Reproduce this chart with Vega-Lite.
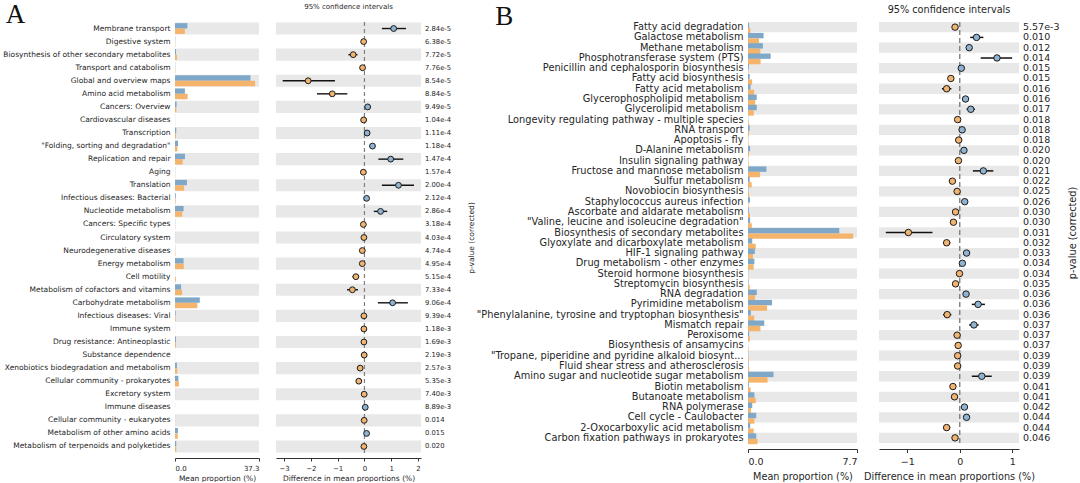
{
"$schema": "https://vega.github.io/schema/vega-lite/v6.json",
"padding": {"left": 2, "top": 1, "right": 2, "bottom": 0},
"background": "white",
"config": {"view": {"stroke": null}, "font": "DejaVu Sans", "axis": {"grid": false, "labelOverlap": false, "labelColor": "#262626", "titleColor": "#262626", "domainColor": "#333333", "tickColor": "#333333", "titleFontWeight": "normal"}},
"datasets": {
"A": [
{"i":1,"c":"Membrane transport","g1":5.5,"g2":4.4,"d":1.09,"lo":0.65,"hi":1.55,"p":"2.84e-5"},
{"i":2,"c":"Digestive system","g1":0.12,"g2":0.15,"d":-0.03,"lo":-0.05,"hi":-0.01,"p":"6.38e-5"},
{"i":3,"c":"Biosynthesis of other secondary metabolites","g1":0.45,"g2":0.87,"d":-0.42,"lo":-0.6,"hi":-0.26,"p":"7.72e-5"},
{"i":4,"c":"Transport and catabolism","g1":0.1,"g2":0.17,"d":-0.07,"lo":-0.1,"hi":-0.04,"p":"7.76e-5"},
{"i":5,"c":"Global and overview maps","g1":33.5,"g2":35.6,"d":-2.1,"lo":-3.05,"hi":-1.1,"p":"8.54e-5"},
{"i":6,"c":"Amino acid metabolism","g1":4.4,"g2":5.6,"d":-1.2,"lo":-1.77,"hi":-0.64,"p":"8.84e-5"},
{"i":7,"c":"Cancers: Overview","g1":0.7,"g2":0.58,"d":0.12,"lo":0.08,"hi":0.16,"p":"9.49e-5"},
{"i":8,"c":"Cardiovascular diseases","g1":0.05,"g2":0.08,"d":-0.03,"lo":-0.05,"hi":-0.01,"p":"1.04e-4"},
{"i":9,"c":"Transcription","g1":0.55,"g2":0.45,"d":0.1,"lo":0.06,"hi":0.14,"p":"1.11e-4"},
{"i":10,"c":"\"Folding, sorting and degradation\"","g1":1.35,"g2":1.05,"d":0.3,"lo":0.22,"hi":0.38,"p":"1.18e-4"},
{"i":11,"c":"Replication and repair","g1":4.4,"g2":3.42,"d":0.98,"lo":0.52,"hi":1.45,"p":"1.47e-4"},
{"i":12,"c":"Aging","g1":0.08,"g2":0.12,"d":-0.04,"lo":-0.06,"hi":-0.02,"p":"1.57e-4"},
{"i":13,"c":"Translation","g1":5.3,"g2":4.03,"d":1.27,"lo":0.65,"hi":1.85,"p":"2.00e-4"},
{"i":14,"c":"Infectious diseases: Bacterial","g1":0.35,"g2":0.27,"d":0.08,"lo":0.05,"hi":0.11,"p":"2.12e-4"},
{"i":15,"c":"Nucleotide metabolism","g1":3.8,"g2":3.2,"d":0.6,"lo":0.35,"hi":0.85,"p":"2.86e-4"},
{"i":16,"c":"Cancers: Specific types","g1":0.1,"g2":0.14,"d":-0.04,"lo":-0.06,"hi":-0.02,"p":"3.18e-4"},
{"i":17,"c":"Circulatory system","g1":0.04,"g2":0.06,"d":-0.02,"lo":-0.04,"hi":0.0,"p":"4.03e-4"},
{"i":18,"c":"Neurodegenerative diseases","g1":0.1,"g2":0.18,"d":-0.08,"lo":-0.11,"hi":-0.05,"p":"4.74e-4"},
{"i":19,"c":"Energy metabolism","g1":3.8,"g2":3.88,"d":-0.08,"lo":-0.13,"hi":-0.03,"p":"4.95e-4"},
{"i":20,"c":"Cell motility","g1":0.05,"g2":0.37,"d":-0.32,"lo":-0.45,"hi":-0.2,"p":"5.15e-4"},
{"i":21,"c":"Metabolism of cofactors and vitamins","g1":2.7,"g2":3.15,"d":-0.45,"lo":-0.65,"hi":-0.24,"p":"7.33e-4"},
{"i":22,"c":"Carbohydrate metabolism","g1":11.0,"g2":9.95,"d":1.05,"lo":0.5,"hi":1.62,"p":"9.06e-4"},
{"i":23,"c":"Infectious diseases: Viral","g1":0.3,"g2":0.32,"d":-0.02,"lo":-0.04,"hi":0.0,"p":"9.39e-4"},
{"i":24,"c":"Immune system","g1":0.04,"g2":0.06,"d":-0.02,"lo":-0.04,"hi":0.0,"p":"1.18e-3"},
{"i":25,"c":"Drug resistance: Antineoplastic","g1":0.45,"g2":0.47,"d":-0.02,"lo":-0.04,"hi":0.0,"p":"1.69e-3"},
{"i":26,"c":"Substance dependence","g1":0.03,"g2":0.04,"d":-0.01,"lo":-0.03,"hi":0.01,"p":"2.19e-3"},
{"i":27,"c":"Xenobiotics biodegradation and metabolism","g1":0.85,"g2":1.01,"d":-0.16,"lo":-0.25,"hi":-0.08,"p":"2.57e-3"},
{"i":28,"c":"Cellular community - prokaryotes","g1":1.5,"g2":1.71,"d":-0.21,"lo":-0.32,"hi":-0.1,"p":"5.35e-3"},
{"i":29,"c":"Excretory system","g1":0.03,"g2":0.04,"d":-0.01,"lo":-0.03,"hi":0.01,"p":"7.40e-3"},
{"i":30,"c":"Immune diseases","g1":0.04,"g2":0.01,"d":0.03,"lo":0.01,"hi":0.05,"p":"8.89e-3"},
{"i":31,"c":"Cellular community - eukaryotes","g1":0.03,"g2":0.04,"d":-0.01,"lo":-0.03,"hi":0.01,"p":"0.014"},
{"i":32,"c":"Metabolism of other amino acids","g1":1.3,"g2":1.22,"d":0.08,"lo":0.05,"hi":0.11,"p":"0.015"},
{"i":33,"c":"Metabolism of terpenoids and polyketides","g1":0.55,"g2":0.57,"d":-0.02,"lo":-0.04,"hi":0.0,"p":"0.020"}
],
"B": [
{"i":1,"c":"Fatty acid degradation","g1":0.08,"g2":0.17,"d":-0.09,"lo":-0.12,"hi":-0.06,"p":"5.57e-3"},
{"i":2,"c":"Galactose metabolism","g1":1.1,"g2":0.78,"d":0.32,"lo":0.2,"hi":0.45,"p":"0.010"},
{"i":3,"c":"Methane metabolism","g1":1.05,"g2":0.87,"d":0.18,"lo":0.13,"hi":0.23,"p":"0.012"},
{"i":4,"c":"Phosphotransferase system (PTS)","g1":1.6,"g2":0.89,"d":0.71,"lo":0.4,"hi":1.0,"p":"0.014"},
{"i":5,"c":"Penicillin and cephalosporin biosynthesis","g1":0.06,"g2":0.03,"d":0.03,"lo":0.01,"hi":0.05,"p":"0.015"},
{"i":6,"c":"Fatty acid biosynthesis","g1":0.12,"g2":0.29,"d":-0.17,"lo":-0.21,"hi":-0.13,"p":"0.015"},
{"i":7,"c":"Fatty acid metabolism","g1":0.18,"g2":0.43,"d":-0.25,"lo":-0.34,"hi":-0.16,"p":"0.016"},
{"i":8,"c":"Glycerophospholipid metabolism","g1":0.62,"g2":0.51,"d":0.11,"lo":0.07,"hi":0.15,"p":"0.016"},
{"i":9,"c":"Glycerolipid metabolism","g1":0.62,"g2":0.41,"d":0.21,"lo":0.13,"hi":0.29,"p":"0.017"},
{"i":10,"c":"Longevity regulating pathway - multiple species","g1":0.02,"g2":0.06,"d":-0.04,"lo":-0.06,"hi":-0.02,"p":"0.018"},
{"i":11,"c":"RNA transport","g1":0.12,"g2":0.075,"d":0.045,"lo":0.025,"hi":0.065,"p":"0.018"},
{"i":12,"c":"Apoptosis - fly","g1":0.02,"g2":0.04,"d":-0.02,"lo":-0.04,"hi":0.0,"p":"0.018"},
{"i":13,"c":"D-Alanine metabolism","g1":0.15,"g2":0.07,"d":0.08,"lo":0.05,"hi":0.11,"p":"0.020"},
{"i":14,"c":"Insulin signaling pathway","g1":0.02,"g2":0.045,"d":-0.025,"lo":-0.045,"hi":-0.005,"p":"0.020"},
{"i":15,"c":"Fructose and mannose metabolism","g1":1.3,"g2":0.85,"d":0.45,"lo":0.25,"hi":0.64,"p":"0.021"},
{"i":16,"c":"Sulfur metabolism","g1":0.12,"g2":0.26,"d":-0.14,"lo":-0.18,"hi":-0.1,"p":"0.022"},
{"i":17,"c":"Novobiocin biosynthesis","g1":0.03,"g2":0.08,"d":-0.05,"lo":-0.07,"hi":-0.03,"p":"0.025"},
{"i":18,"c":"Staphylococcus aureus infection","g1":0.14,"g2":0.045,"d":0.095,"lo":0.07,"hi":0.12,"p":"0.026"},
{"i":19,"c":"Ascorbate and aldarate metabolism","g1":0.06,"g2":0.14,"d":-0.08,"lo":-0.1,"hi":-0.06,"p":"0.030"},
{"i":20,"c":"\"Valine, leucine and isoleucine degradation\"","g1":0.15,"g2":0.27,"d":-0.12,"lo":-0.15,"hi":-0.09,"p":"0.030"},
{"i":21,"c":"Biosynthesis of secondary metabolites","g1":6.45,"g2":7.43,"d":-0.98,"lo":-1.41,"hi":-0.52,"p":"0.031"},
{"i":22,"c":"Glyoxylate and dicarboxylate metabolism","g1":0.3,"g2":0.55,"d":-0.25,"lo":-0.32,"hi":-0.18,"p":"0.032"},
{"i":23,"c":"HIF-1 signaling pathway","g1":0.48,"g2":0.35,"d":0.13,"lo":0.1,"hi":0.16,"p":"0.033"},
{"i":24,"c":"Drug metabolism - other enzymes","g1":0.45,"g2":0.4,"d":0.05,"lo":0.03,"hi":0.07,"p":"0.034"},
{"i":25,"c":"Steroid hormone biosynthesis","g1":0.02,"g2":0.025,"d":-0.005,"lo":-0.02,"hi":0.01,"p":"0.034"},
{"i":26,"c":"Streptomycin biosynthesis","g1":0.04,"g2":0.12,"d":-0.08,"lo":-0.1,"hi":-0.06,"p":"0.035"},
{"i":27,"c":"RNA degradation","g1":0.62,"g2":0.5,"d":0.12,"lo":0.09,"hi":0.15,"p":"0.036"},
{"i":28,"c":"Pyrimidine metabolism","g1":1.7,"g2":1.35,"d":0.35,"lo":0.23,"hi":0.48,"p":"0.036"},
{"i":29,"c":"\"Phenylalanine, tyrosine and tryptophan biosynthesis\"","g1":0.2,"g2":0.44,"d":-0.24,"lo":-0.32,"hi":-0.16,"p":"0.036"},
{"i":30,"c":"Mismatch repair","g1":1.15,"g2":0.88,"d":0.27,"lo":0.18,"hi":0.36,"p":"0.037"},
{"i":31,"c":"Peroxisome","g1":0.08,"g2":0.13,"d":-0.05,"lo":-0.07,"hi":-0.03,"p":"0.037"},
{"i":32,"c":"Biosynthesis of ansamycins","g1":0.01,"g2":0.04,"d":-0.03,"lo":-0.05,"hi":-0.01,"p":"0.037"},
{"i":33,"c":"\"Tropane, piperidine and pyridine alkaloid biosynt...","g1":0.02,"g2":0.06,"d":-0.04,"lo":-0.06,"hi":-0.02,"p":"0.039"},
{"i":34,"c":"Fluid shear stress and atherosclerosis","g1":0.04,"g2":0.08,"d":-0.04,"lo":-0.06,"hi":-0.02,"p":"0.039"},
{"i":35,"c":"Amino sugar and nucleotide sugar metabolism","g1":1.8,"g2":1.38,"d":0.42,"lo":0.23,"hi":0.61,"p":"0.039"},
{"i":36,"c":"Biotin metabolism","g1":0.06,"g2":0.19,"d":-0.13,"lo":-0.16,"hi":-0.1,"p":"0.041"},
{"i":37,"c":"Butanoate metabolism","g1":0.45,"g2":0.55,"d":-0.1,"lo":-0.14,"hi":-0.06,"p":"0.041"},
{"i":38,"c":"RNA polymerase","g1":0.3,"g2":0.21,"d":0.09,"lo":0.06,"hi":0.12,"p":"0.042"},
{"i":39,"c":"Cell cycle - Caulobacter","g1":0.58,"g2":0.45,"d":0.13,"lo":0.09,"hi":0.17,"p":"0.044"},
{"i":40,"c":"2-Oxocarboxylic acid metabolism","g1":0.15,"g2":0.4,"d":-0.25,"lo":-0.32,"hi":-0.18,"p":"0.044"},
{"i":41,"c":"Carbon fixation pathways in prokaryotes","g1":0.58,"g2":0.67,"d":-0.09,"lo":-0.13,"hi":-0.05,"p":"0.046"}
],
"zero": [{"z": 0}]
},
"bounds": "flush",
"spacing": 573,
"hconcat": [
{
"title": {"text": "A", "font": "Liberation Serif", "fontSize": 27, "fontWeight": "normal", "anchor": "start", "color": "#111111", "dx": 3, "offset": -26},
"bounds": "flush",
"spacing": 17,
"hconcat": [
{
"width": 84, "height": 431,
"data": {"name": "A"},
"layer": [
{"mark": {"type": "rect"},
 "encoding": {
  "y": {"field": "c", "type": "nominal", "sort": null, "scale": {"paddingInner": 0.07, "paddingOuter": 0.035},
        "axis": {"title": null, "ticks": false, "domain": false, "labelFontSize": 7.5, "labelPadding": 5, "labelLimit": 400}},
  "x": {"datum": 0, "type": "quantitative", "scale": {"domain": [0, 37.3], "nice": false, "zero": false},
        "axis": {"values": [0, 37.3], "format": ".1f", "labelOverlap": false, "title": "Mean proportion (%)", "labelFontSize": 7, "titleFontSize": 7.5, "offset": 5, "tickSize": 3, "titlePadding": 3, "labelPadding": 3}},
  "x2": {"datum": 37.3},
  "fill": {"condition": {"test": "datum.i % 2 == 1", "value": "#e8e8e8"}, "value": "transparent"}
 }},
{"transform": [{"fold": ["g1", "g2"], "as": ["grp", "val"]}],
 "mark": {"type": "bar"},
 "encoding": {
  "y": {"field": "c", "type": "nominal", "sort": null},
  "yOffset": {"field": "grp", "type": "nominal", "scale": {"paddingOuter": 0.12, "paddingInner": 0}},
  "x": {"field": "val", "type": "quantitative"},
  "color": {"field": "grp", "type": "nominal", "scale": {"domain": ["g1", "g2"], "range": ["#7ea7c8", "#f5b46c"]}, "legend": null}
 }}
]
},
{
"width": 145, "height": 431,
"data": {"name": "A"},
"title": {"text": "95% confidence intervals", "fontSize": 7, "fontWeight": "normal", "color": "#262626", "offset": 11},
"encoding": {
  "x": {"type": "quantitative", "scale": {"domain": [-3.3, 2.11], "nice": false, "zero": false},
        "axis": {"tickCount": 6, "values": [-3, -2, -1, 0, 1, 2], "format": "d", "labelOverlap": false, "labelSeparation": 0, "title": "Difference in mean proportions (%)", "labelFontSize": 7, "titleFontSize": 7.5, "offset": 5, "tickSize": 3, "titlePadding": 3, "labelPadding": 3}}
},
"layer": [
{"mark": {"type": "rect"},
 "encoding": {
  "y": {"field": "c", "type": "nominal", "sort": null, "scale": {"paddingInner": 0.07, "paddingOuter": 0.035},
        "axis": {"orient": "right", "labels": false, "ticks": false, "domain": false, "title": "p-value (corrected)", "titleAngle": 270, "titleFontSize": 7.5, "titlePadding": 54}},
  "x": {"datum": -3.3, "type": "quantitative"},
  "x2": {"datum": 2.11},
  "fill": {"condition": {"test": "datum.i % 2 == 1", "value": "#e8e8e8"}, "value": "transparent"}
 }},
{"data": {"name": "zero"},
 "mark": {"type": "rule", "strokeDash": [4, 3], "color": "#808080", "strokeWidth": 1.2},
 "encoding": {"x": {"field": "z", "type": "quantitative"}}},
{"mark": {"type": "rule", "color": "#111111", "strokeWidth": 1.4},
 "encoding": {
  "y": {"field": "c", "type": "nominal", "sort": null},
  "x": {"field": "lo", "type": "quantitative"},
  "x2": {"field": "hi"}
 }},
{"mark": {"type": "point", "filled": true, "size": 34, "stroke": "#1a1a1a", "strokeWidth": 1, "opacity": 1},
 "encoding": {
  "y": {"field": "c", "type": "nominal", "sort": null},
  "x": {"field": "d", "type": "quantitative"},
  "fill": {"condition": {"test": "datum.d > 0", "value": "#8fb3d0"}, "value": "#f0b472"}
 }},
{"mark": {"type": "text", "align": "left", "baseline": "middle", "dx": 4, "fontSize": 6.8, "color": "#262626"},
 "encoding": {
  "y": {"field": "c", "type": "nominal", "sort": null},
  "x": {"datum": 2.11, "type": "quantitative"},
  "text": {"field": "p"}
 }}
]
}
]
},
{
"title": {"text": "B", "font": "Liberation Serif", "fontSize": 27, "fontWeight": "normal", "anchor": "start", "color": "#111111", "dx": 19, "offset": -26},
"bounds": "flush",
"spacing": 22,
"hconcat": [
{
"width": 109, "height": 421,
"data": {"name": "B"},
"layer": [
{"mark": {"type": "rect"},
 "encoding": {
  "y": {"field": "c", "type": "nominal", "sort": null, "scale": {"paddingInner": 0.0, "paddingOuter": 0.0},
        "axis": {"title": null, "ticks": false, "domain": false, "labelFontSize": 9.8, "labelPadding": 5, "labelLimit": 400}},
  "x": {"datum": 0, "type": "quantitative", "scale": {"domain": [0, 7.7], "nice": false, "zero": false},
        "axis": {"values": [0, 7.7], "format": ".1f", "labelOverlap": false, "title": "Mean proportion (%)", "labelFontSize": 9.5, "titleFontSize": 9.7, "offset": 6, "tickSize": 3.5, "titlePadding": 5, "labelPadding": 4}},
  "x2": {"datum": 7.7},
  "fill": {"condition": {"test": "datum.i % 2 == 1", "value": "#e8e8e8"}, "value": "transparent"}
 }},
{"transform": [{"fold": ["g1", "g2"], "as": ["grp", "val"]}],
 "mark": {"type": "bar"},
 "encoding": {
  "y": {"field": "c", "type": "nominal", "sort": null},
  "yOffset": {"field": "grp", "type": "nominal", "scale": {"paddingOuter": 0.2, "paddingInner": 0}},
  "x": {"field": "val", "type": "quantitative"},
  "color": {"field": "grp", "type": "nominal", "scale": {"domain": ["g1", "g2"], "range": ["#7ea7c8", "#f5b46c"]}, "legend": null}
 }}
]
},
{
"width": 140, "height": 421,
"data": {"name": "B"},
"title": {"text": "95% confidence intervals", "fontSize": 9.7, "fontWeight": "normal", "color": "#262626", "offset": 7},
"layer": [
{"mark": {"type": "rect"},
 "encoding": {
  "y": {"field": "c", "type": "nominal", "sort": null, "scale": {"paddingInner": 0.0, "paddingOuter": 0.0},
        "axis": {"orient": "right", "labels": false, "ticks": false, "domain": false, "title": "p-value (corrected)", "titleAngle": 270, "titleFontSize": 9.7, "titlePadding": 58}},
  "x": {"datum": -1.54, "type": "quantitative", "scale": {"domain": [-1.54, 1.13], "nice": false, "zero": false},
        "axis": {"values": [-1, 0, 1], "format": "d", "labelOverlap": false, "title": "Difference in mean proportions (%)", "labelFontSize": 9.5, "titleFontSize": 9.7, "offset": 6, "tickSize": 3.5, "titlePadding": 5, "labelPadding": 4}},
  "x2": {"datum": 1.13},
  "fill": {"condition": {"test": "datum.i % 2 == 1", "value": "#e8e8e8"}, "value": "transparent"}
 }},
{"data": {"name": "zero"},
 "mark": {"type": "rule", "strokeDash": [5, 3], "color": "#808080", "strokeWidth": 1.4},
 "encoding": {"x": {"field": "z", "type": "quantitative"}}},
{"mark": {"type": "rule", "color": "#111111", "strokeWidth": 1.5},
 "encoding": {
  "y": {"field": "c", "type": "nominal", "sort": null},
  "x": {"field": "lo", "type": "quantitative"},
  "x2": {"field": "hi"}
 }},
{"mark": {"type": "point", "filled": true, "size": 42, "stroke": "#1a1a1a", "strokeWidth": 1, "opacity": 1},
 "encoding": {
  "y": {"field": "c", "type": "nominal", "sort": null},
  "x": {"field": "d", "type": "quantitative"},
  "fill": {"condition": {"test": "datum.d > 0", "value": "#8fb3d0"}, "value": "#f0b472"}
 }},
{"mark": {"type": "text", "align": "left", "baseline": "middle", "dx": 4, "fontSize": 9.5, "color": "#262626"},
 "encoding": {
  "y": {"field": "c", "type": "nominal", "sort": null},
  "x": {"datum": 1.13},
  "text": {"field": "p"}
 }}
]
}
]
}
]
}
